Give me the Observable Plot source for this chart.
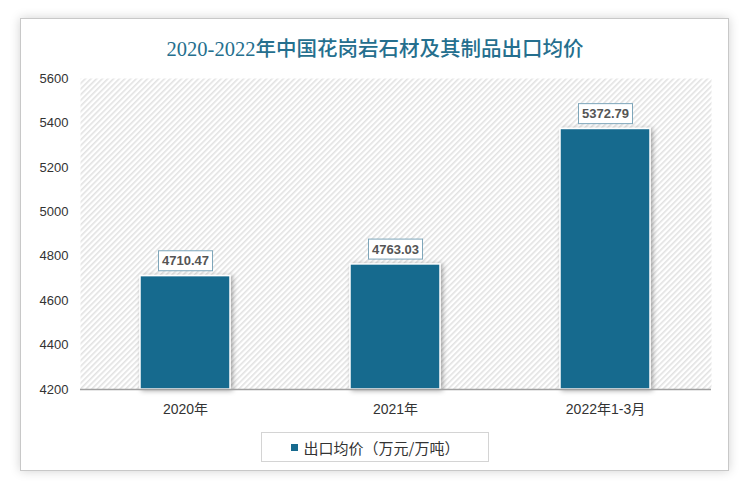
<!DOCTYPE html>
<html><head><meta charset="utf-8">
<script src="https://cdn.jsdelivr.net/npm/d3@7"></script>
<script src="https://cdn.jsdelivr.net/npm/@observablehq/plot@0.6"></script>
<style>
html,body{margin:0;padding:0;background:#fff;width:750px;height:491px;overflow:hidden;}
#card{position:absolute;left:20px;top:18px;width:707px;height:451px;border:1px solid #c8c8c8;background:#fff;box-shadow:0 0 10px rgba(0,0,0,0.18);}
#title{position:absolute;left:0;top:32px;width:750px;text-align:center;font-family:"Liberation Serif","Noto Sans CJK SC",serif;font-size:20.5px;font-weight:500;color:#256f8e;letter-spacing:0;}
#chart{position:absolute;left:0;top:60px;}
#legend{position:absolute;left:261px;top:432px;width:228px;height:30px;border:1px solid #d4d4d4;box-sizing:border-box;font-family:"Noto Sans CJK SC",sans-serif;font-size:15px;color:#333;display:flex;align-items:center;justify-content:center;}
#legend .sw{display:inline-block;width:7px;height:7px;background:#176a8e;margin-right:6px;}
</style></head>
<body>
<div id="card"></div>
<div id="title">2020-2022年中国花岗岩石材及其制品出口均价</div>
<div id="chart"></div>
<div id="legend"><span class="sw"></span>出口均价（万元/万吨）</div>
<script>
const categories = ["2020年", "2021年", "2022年1-3月"];
const values = [4710.47, 4763.03, 5372.79];
const yTicks = [4200, 4400, 4600, 4800, 5000, 5200, 5400, 5600];

const data = categories.map((c, i) => ({cat: c, v: values[i]}));
const barColor = "#176a8e";

const plot = Plot.plot({
  width: 750,
  height: 372,
  marginLeft: 80,
  marginRight: 39,
  marginTop: 18,
  marginBottom: 43,
  style: {fontFamily: "Liberation Sans, Noto Sans CJK SC, sans-serif", fontSize: "12.5px", color: "#333", background: "transparent"},
  x: {domain: categories, paddingInner: 0.57, paddingOuter: 0.285, label: null, tickSize: 0, tickPadding: 15},
  y: {domain: [4200, 5600], ticks: yTicks, label: null, tickSize: 0, tickPadding: 12, tickFormat: d => String(d)},
  marks: [
    Plot.frame({fill: "url(#hatch)", stroke: null}),
    Plot.barY(data, {x: "cat", y1: 4200, y2: "v", fill: barColor, stroke: "#fff", strokeWidth: 1.5, className: "bars"}),
    Plot.ruleY([4200], {stroke: "#a0a0a0", strokeWidth: 1.5}),
    Plot.text(data, {x: "cat", y: "v", text: d => d.v.toFixed(2), dy: -15, fill: "#555", fontWeight: "bold", fontSize: 13, fontFamily: "Liberation Sans, sans-serif", className: "vlabels"})
  ]
});
document.getElementById("chart").appendChild(plot);

d3.select(plot).selectAll("[aria-label='x-axis tick label'] text").style("font-size", "14px").attr("fill", "#333");
d3.select(plot).selectAll("[aria-label='y-axis tick label'] text").style("font-size", "13px").attr("fill", "#333");

// defs: hatch pattern + shadow
const svg = d3.select(plot);
const defs = svg.insert("defs", ":first-child");
const pat = defs.append("pattern").attr("id", "hatch").attr("patternUnits", "userSpaceOnUse")
  .attr("width", 4).attr("height", 4).attr("patternTransform", "rotate(45)");
pat.append("rect").attr("width", 4).attr("height", 4).attr("fill", "#fff");
pat.append("rect").attr("width", 1.6).attr("height", 4).attr("fill", "#e2e2e2");
const f = defs.append("filter").attr("id", "shadow").attr("x", "-20%").attr("y", "-20%").attr("width", "150%").attr("height", "150%");
f.append("feDropShadow").attr("dx", 2).attr("dy", 1).attr("stdDeviation", 2.5).attr("flood-color", "#000").attr("flood-opacity", 0.35);
svg.selectAll(".bars rect").attr("filter", "url(#shadow)");

// boxes behind value labels
svg.selectAll(".vlabels text").each(function() {
  const b = this.getBBox();
  const t = this.getAttribute("transform");
  const r = document.createElementNS("http://www.w3.org/2000/svg", "rect");
  r.setAttribute("x", b.x - 3.5);
  r.setAttribute("y", b.y - 2.5);
  r.setAttribute("width", b.width + 7);
  r.setAttribute("height", b.height + 5);
  r.setAttribute("fill", "#fff");
  r.setAttribute("stroke", "#7ea6ba");
  r.setAttribute("stroke-width", "1");
  if (t) r.setAttribute("transform", t);
  this.parentNode.insertBefore(r, this);
});
</script>
</body></html>
